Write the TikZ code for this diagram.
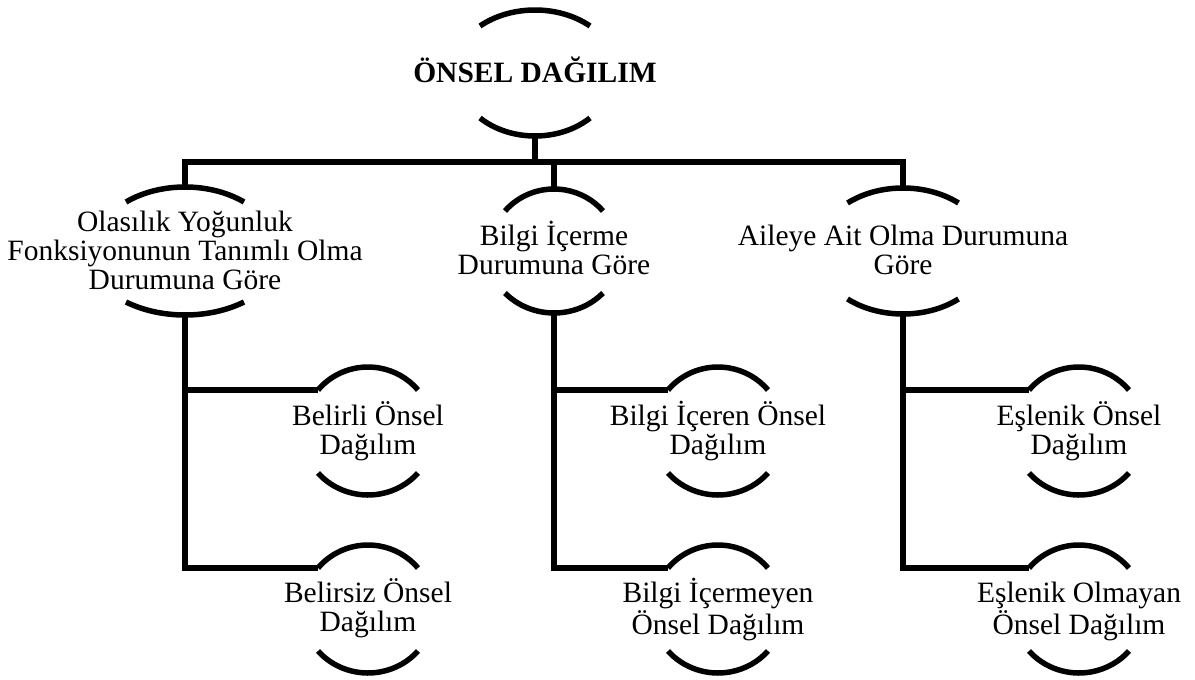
\documentclass[tikz,border=0pt]{standalone}
\usepackage{fontspec}
\setmainfont{Liberation Serif}

% centred multi-line label whose baseline is that of its first line
\newcommand\stack[1]{\begin{tabular}[t]{@{}c@{}}#1\end{tabular}}

\tikzset{
  rim/.style={line width=5.5pt, line cap=butt},
  link/.style={line width=5.5pt, line join=miter, line cap=butt},
  txt/.style={anchor=base, inner sep=0pt, font=\fontsize{29.5}{29}\selectfont},
}

% #1 name, #2 cx, #3 cy (downward), #4 half chord,
% #5 top end offset, #6 top apex offset, #7 bottom end offset, #8 bottom apex offset
\newcommand\bracketpair[8]{%
  \pgfmathsetmacro\angT{asin(#5/#6)}%
  \pgfmathsetmacro\radT{#4/cos(\angT)}%
  \pgfmathsetmacro\angB{asin(#7/#8)}%
  \pgfmathsetmacro\radB{#4/cos(\angB)}%
  \draw[rim] (#2-#4,-#3+#5) arc[start angle=180-\angT, end angle=\angT, x radius=\radT, y radius=#6];
  \draw[rim] (#2-#4,-#3-#7) arc[start angle=180+\angB, end angle=360-\angB, x radius=\radB, y radius=#8];
  \coordinate (#1-n) at (#2,-#3+#6);
  \coordinate (#1-s) at (#2,-#3-#8);
  \coordinate (#1-w) at (#2-#4,-#3+#5);
}

\begin{document}
\begin{tikzpicture}[x=1pt,y=1pt]
\useasboundingbox (0,0) rectangle (1195,-680);

% root
\bracketpair{root}{535}{73}{55}{47}{63}{45}{63}
\node[txt, font=\fontsize{29.5}{29}\selectfont\bfseries] (rootlbl) at (535,-82) {ÖNSEL DAĞILIM};

% first level
\bracketpair{A}{185}{251}{59}{49}{64}{51}{64}
\bracketpair{B}{554}{251}{49}{40}{62}{42}{62}
\bracketpair{C}{903}{251}{55.5}{48}{63}{48}{63}
\node[txt] (Albl) at (185,-231) {\stack{Olasılık Yoğunluk\\Fonksiyonunun Tanımlı Olma\\Durumuna Göre}};
\node[txt] (Blbl) at (554,-245) {\stack{Bilgi İçerme\\Durumuna Göre}};
\node[txt] (Clbl) at (903,-245) {\stack{Aileye Ait Olma Durumuna\\Göre}};

% second level
\bracketpair{A1}{368}{431}{50}{41}{64}{42}{64}
\bracketpair{A2}{368}{609}{50}{41}{64}{42}{64}
\bracketpair{B1}{718}{431}{50}{41}{64}{42}{64}
\bracketpair{B2}{718}{609}{50}{41}{64}{42}{64}
\bracketpair{C1}{1079}{431}{50}{41}{64}{42}{64}
\bracketpair{C2}{1079}{609}{50}{41}{64}{42}{64}
\node[txt] (A1lbl) at (368,-425) {\stack{Belirli Önsel\\Dağılım}};
\node[txt] (A2lbl) at (368,-602) {\stack{Belirsiz Önsel\\Dağılım}};
\node[txt] (B1lbl) at (718,-425) {\stack{Bilgi İçeren Önsel\\Dağılım}};
\node[txt] (B2lbl) at (718,-602) {\stack{Bilgi İçermeyen\\Önsel Dağılım}};
\node[txt] (C1lbl) at (1079,-425) {\stack{Eşlenik Önsel\\Dağılım}};
\node[txt] (C2lbl) at (1079,-602) {\stack{Eşlenik Olmayan\\Önsel Dağılım}};

% connectors
\coordinate (bus) at (0,-162);
\draw[link] (root-s) -- (root-s |- bus);
\draw[link] (A-n) -- (A-n |- bus) -- (C-n |- bus) -- (C-n);
\draw[link] (B-n |- bus) -- (B-n);

\draw[link] (A-s) -- (A-s |- A2-w) -- (A2-w);
\draw[link] (A-s |- A1-w) -- (A1-w);
\draw[link] (B-s) -- (B-s |- B2-w) -- (B2-w);
\draw[link] (B-s |- B1-w) -- (B1-w);
\draw[link] (C-s) -- (C-s |- C2-w) -- (C2-w);
\draw[link] (C-s |- C1-w) -- (C1-w);
\end{tikzpicture}
\end{document}
